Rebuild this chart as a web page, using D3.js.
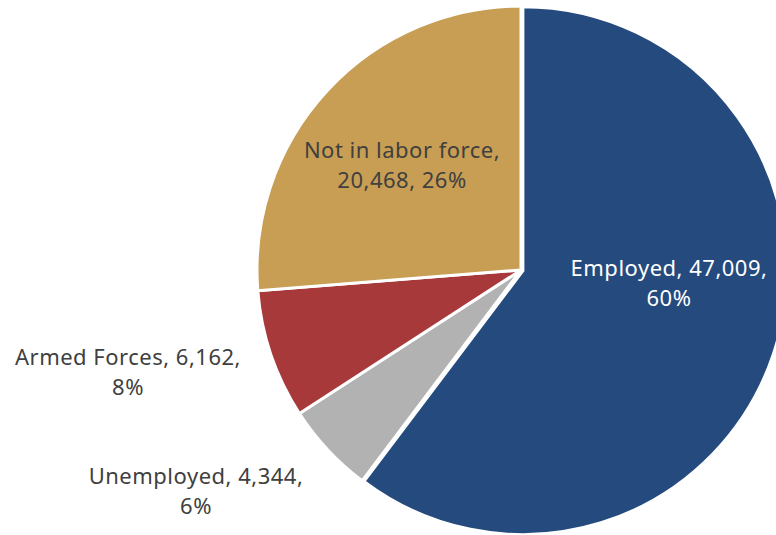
<!DOCTYPE html>
<html>
<head>
<meta charset="utf-8">
<script src="https://cdn.jsdelivr.net/npm/d3@7/dist/d3.min.js"></script>
<style>
  html, body { margin: 0; padding: 0; background: #fff; }
  svg { display: block; }
  text { font-family: "Noto Sans", sans-serif; font-size: 22px; letter-spacing: 0.5px; }
</style>
</head>
<body>
<svg id="chart" width="776" height="535"></svg>
<script>
const categories = ["Employed", "Unemployed", "Armed Forces", "Not in labor force"];
const values = [47009, 4344, 6162, 20468];
const percentLabels = ["60%", "6%", "8%", "26%"];
const colors = ["#254a7e", "#b2b2b2", "#a8393a", "#c79e53"];

// label anchor offsets from the pie centre (layout, not data)
const labelOffsets = [[148, 6], [-325, 214], [-393, 95], [-119, -112]];
const labelColors = ["#ffffff", "#404040", "#404040", "#404040"];
const explode = [2, 0, 0, 0];

const width = 776, height = 535;
const cx = 521, cy = 270, r = 264;
const svg = d3.select("#chart");
const g = svg.append("g").attr("transform", `translate(${cx},${cy})`);

const pie = d3.pie().sort(null).value(d => d.value);
const data = categories.map((c, i) => ({ name: c, value: values[i], i }));
const arcs = pie(data);
const arc = d3.arc().innerRadius(0).outerRadius(r);

g.selectAll("path.slice")
  .data(arcs)
  .join("path")
  .attr("class", "slice")
  .attr("d", arc)
  .attr("fill", d => colors[d.data.i])
  .attr("stroke", "#ffffff")
  .attr("stroke-width", 3)
  .attr("stroke-linejoin", "miter")
  .attr("transform", d => {
    const a = (d.startAngle + d.endAngle) / 2;
    const e = explode[d.data.i];
    return `translate(${Math.sin(a) * e},${-Math.cos(a) * e})`;
  });

const fmt = d3.format(",");
const labels = g.selectAll("text.lbl")
  .data(arcs)
  .join("text")
  .attr("class", "lbl")
  .attr("text-anchor", "middle")
  .attr("fill", d => labelColors[d.data.i])
  .attr("transform", d => `translate(${labelOffsets[d.data.i][0]},${labelOffsets[d.data.i][1]})`);

labels.each(function(d) {
  const t = d3.select(this);
  const i = d.data.i;
  let l1, l2;
  if (d.data.name === "Not in labor force") {
    l1 = d.data.name + ",";
    l2 = fmt(d.data.value) + ", " + percentLabels[i];
  } else {
    l1 = d.data.name + ", " + fmt(d.data.value) + ",";
    l2 = percentLabels[i];
  }
  t.append("tspan").attr("x", 0).attr("y", 0).text(l1);
  t.append("tspan").attr("x", 0).attr("y", 30).text(l2);
});
</script>
</body>
</html>
